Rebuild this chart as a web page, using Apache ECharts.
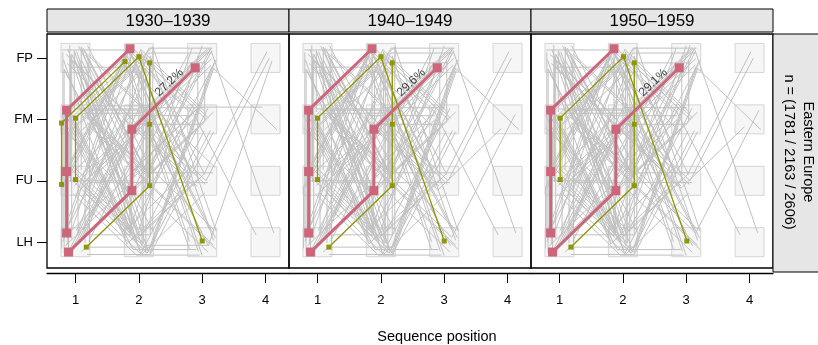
<!DOCTYPE html>
<html>
<head>
<meta charset="utf-8">
<script src="https://cdn.jsdelivr.net/npm/echarts@6/dist/echarts.min.js"></script>
<style>
  html, body { margin: 0; padding: 0; background: #fff; }
  #chart { width: 818px; height: 345px; }
</style>
</head>
<body>
<div id="chart"></div>
<script>
// sequence positions and event states (bottom -> top)
const positions = [1, 2, 3, 4];
const states = ['LH', 'FU', 'FM', 'FP'];
const stateCode = { L: 1, U: 2, M: 3, P: 4 };
const periods = ['1930\u20131939', '1940\u20131949', '1950\u20131959'];
const topShares = ['27.2%', '29.6%', '29.1%'];
const groupLabel = 'Eastern Europe';
const groupSizes = 'n = (1781 / 2163 / 2606)';

// each path: [x jitter, y jitter, 'position+state ...']
const pinkPaths = [
  [-0.14, 0.15, '1L 1U 1M 2P'],
  [-0.11, -0.16, '1L 2U 2M 3P']
];
const olivePaths = [
  [[-0.22, -0.06, '1U 1M 2P'], [0.00, 0.02, '1U 1M 2P 3L'], [0.17, -0.08, '1L 2U 2M 2P']],
  [[0.00, 0.02, '1U 1M 2P 3L'], [0.18, -0.08, '1L 2U 2M 2P']],
  [[0.01, 0.02, '1U 1M 2P 3L'], [0.18, -0.08, '1L 2U 2M 2P']]
];

// background sequences, common look of all three periods
const greyShared = [
  [-0.21, 0.13, '1P 2P 3M'], [-0.13, -0.09, '1P 2M 3U'], [0.05, 0.19, '1P 2U'],
  [0.15, -0.15, '1P 2L 3P'], [-0.03, 0.02, '1P 2L'], [0.21, 0.07, '1P 2M 3L'],
  [-0.17, -0.21, '1P 2U 3M'], [0.09, -0.03, '1P 2U 3U'], [-0.09, 0.21, '1P 1U 2L'],
  [-0.19, 0.04, '1M 2P 3U'], [-0.07, -0.18, '1M 2P'], [0.08, 0.15, '1M 2M 3P'],
  [0.18, -0.05, '1M 2U 3L'], [-0.12, 0.20, '1M 2L 3M'], [0.01, -0.11, '1M 2L'],
  [0.14, 0.10, '1M 2U 3P'], [-0.22, -0.14, '1M 2U'], [0.22, 0.18, '1M 2P 3L'],
  [-0.20, -0.12, '1U 2P 3L'], [-0.08, 0.10, '1U 2M'], [0.04, -0.20, '1U 2L 3U'],
  [0.16, 0.16, '1U 2P 3P'], [-0.14, 0.00, '1U 2U 3M'], [0.10, -0.06, '1U 2M 3L'],
  [0.00, 0.20, '1U 2L 3P'], [0.20, -0.16, '1U 2P'], [-0.02, -0.08, '1U 2M 3M'],
  [-0.18, 0.18, '1L 2P 3U'], [-0.04, -0.14, '1L 2M 3P'], [0.08, 0.04, '1L 2U'],
  [0.18, -0.20, '1L 2L 3M'], [-0.10, 0.08, '1L 2P'], [0.12, 0.20, '1L 2M 3L'],
  [-0.16, -0.06, '1L 2U 3P'], [0.03, 0.14, '1L 2P 3M'], [0.21, 0.02, '1L 2M'],
  [-0.22, -0.10, '1L 1U 2P'], [-0.16, 0.16, '1U 1M 2L 3P'], [0.20, 0.00, '1M 1P 2U'],
  [0.04, 0.10, '1L 1M 2M 2P 3U'], [-0.08, -0.02, '1U 1P 2M'], [0.14, -0.12, '1L 2U 2M 3P'],
  [-0.12, 0.14, '1P 2L 2U 3M'], [0.22, 0.18, '1M 2L 2P'], [0.00, -0.22, '1U 2M 2P 3L'],
  [0.18, 0.12, '1L 2L 2U 3M'], [-0.06, 0.06, '1L 1U 1M 1P 2U'], [0.11, -0.17, '1M 2P 2L'],
  [-0.20, 0.09, '1P 1L 2M 3U'], [0.07, -0.01, '1U 2L 2P 3M'], [0.16, 0.05, '1P 2U 2M'],
  [-0.11, -0.19, '1M 1L 2U 3P'],
  [-0.19, -0.03, '1P 2L 3U'], [0.12, 0.12, '1P 2M 3P'], [-0.06, -0.15, '1P 2P 3L'],
  [0.19, 0.20, '1P 2U 3L'], [-0.15, 0.06, '1P 2M 3M'], [0.03, -0.19, '1P 2L 3M'],
  [-0.21, 0.19, '1M 2L 3U'], [0.06, -0.08, '1M 2P 3P'], [0.17, 0.13, '1M 2U 3U'],
  [-0.09, -0.12, '1M 2L 3L'], [0.10, 0.02, '1M 2P 3M'], [-0.01, 0.17, '1M 2M 3L'],
  [0.13, -0.18, '1U 2L 3M'], [-0.17, 0.13, '1U 2P 3U'], [0.07, 0.07, '1U 2M 3P'],
  [-0.04, -0.21, '1U 2L 3L'], [0.22, -0.03, '1U 2U 3P'], [-0.12, 0.18, '1U 2P 3M'],
  [0.15, 0.08, '1L 2P 3P'], [-0.08, -0.09, '1L 2M 3U'], [0.09, -0.16, '1L 2U 3L'],
  [-0.20, 0.01, '1L 2P 3L'], [0.01, 0.19, '1L 2M 3M'], [0.19, -0.08, '1L 2L 3P'],
  [-0.13, -0.04, '1L 1M 2P'], [0.09, 0.18, '1U 1P 2L 3M'], [-0.18, -0.18, '1L 1P 2U'],
  [0.15, -0.01, '1L 1U 2M 3P'], [-0.02, 0.12, '1M 1P 2L'], [0.22, -0.12, '1L 1M 2U 3L'],
  [0.05, -0.06, '1P 2L 2M 3U'], [-0.14, 0.10, '1U 2L 2P'], [0.18, 0.03, '1M 2U 2P 3L'],
  [-0.10, -0.20, '1L 2M 2P 3M'], [0.12, 0.16, '1P 2U 2M 3P'], [-0.22, 0.07, '1M 2L 2U 3P'],
  [0.04, -0.04, '1L 2U 3M 3P'], [-0.07, 0.03, '1M 2L 3U 3P'],
  [0.06, 0.00, '1L 2M 3U 4P'], [0.13, 0.15, '1M 2U 3P 4L'], [0.18, -0.17, '1U 2L 3P 4M'],
  [0.02, 0.10, '1P 2L 3U 4P'], [-0.15, 0.12, '1U 2P 3M 4L']
];
const greyExtra = [
  [[0.10, -0.05, '1U 2L 3L 4P'], [-0.05, 0.20, '1L 2U 3M 4M'], [0.20, 0.22, '1M 2M 3U']],
  [[0.12, 0.08, '1L 2U 3L 4M'], [-0.10, -0.15, '1P 2M 3U 4M'], [0.19, -0.21, '1M 2L 3P']],
  [[0.15, 0.15, '1L 2U 3L 4M'], [-0.08, -0.12, '1P 2M 3U 4M'], [0.06, 0.21, '1U 2L 3P']]
];

const pink = '#cc667a';
const olive = '#8e9600';
const greyLine = '#c0c0c0';
const font = 'Liberation Sans, Arial, sans-serif';

const panelLeft = [47, 289, 531];
const panelW = 242, panelTop = 34, panelH = 234;

function toPoints(entry) {
  const [dx, dy, path] = entry;
  return path.split(' ').map(t => [+t[0] + dx, stateCode[t[1]] + dy]);
}

const grid = [], xAxis = [], yAxis = [], series = [], graphic = [];

periods.forEach((period, i) => {
  grid.push({
    left: panelLeft[i], top: panelTop, width: panelW, height: panelH,
    show: true, borderColor: '#000', borderWidth: 1.3, backgroundColor: 'transparent'
  });
  xAxis.push({
    gridIndex: i, type: 'value', min: 0.55, max: 4.37, position: 'bottom', offset: 5,
    axisLine: { show: true, lineStyle: { color: '#000', width: 1.3 } },
    axisTick: { show: true, customValues: positions, length: 10, lineStyle: { color: '#000' } },
    axisLabel: { show: true, customValues: positions, margin: 21, fontSize: 13, color: '#000', fontFamily: font },
    splitLine: { show: false }
  });
  yAxis.push({
    gridIndex: i, type: 'value', min: 0.58, max: 4.39,
    axisLine: { show: false },
    axisTick: { show: i === 0, customValues: [1, 2, 3, 4], length: 10, lineStyle: { color: '#000' } },
    axisLabel: {
      show: i === 0, customValues: [1, 2, 3, 4], margin: 14, fontSize: 13, color: '#000', fontFamily: font,
      formatter: v => states[Math.round(v) - 1]
    },
    splitLine: { show: false }
  });

  const boxes = [];
  positions.forEach(p => states.forEach((s, k) => boxes.push([p, k + 1])));
  series.push({
    type: 'scatter', xAxisIndex: i, yAxisIndex: i, data: boxes, symbol: 'rect', symbolSize: 29,
    itemStyle: { color: '#f4f4f4', borderColor: '#cccccc', borderWidth: 1 }, silent: true, z: 1
  });

  series.push({
    type: 'lines', coordinateSystem: 'cartesian2d', xAxisIndex: i, yAxisIndex: i, polyline: true,
    data: greyShared.concat(greyExtra[i]).map(e => ({ coords: toPoints(e) })),
    lineStyle: { color: greyLine, width: 1, opacity: 1 }, silent: true, z: 2
  });

  olivePaths[i].forEach(e => {
    series.push({
      type: 'line', xAxisIndex: i, yAxisIndex: i, data: toPoints(e), symbol: 'rect', symbolSize: 5,
      showAllSymbol: true, lineStyle: { color: olive, width: 1.3 }, itemStyle: { color: olive },
      silent: true, z: 3
    });
  });
  pinkPaths.forEach(e => {
    series.push({
      type: 'line', xAxisIndex: i, yAxisIndex: i, data: toPoints(e), symbol: 'rect', symbolSize: 9,
      showAllSymbol: true, lineStyle: { color: pink, width: 3 }, itemStyle: { color: pink },
      silent: true, z: 4
    });
  });
  series.push({
    type: 'scatter', xAxisIndex: i, yAxisIndex: i, data: [[2.48, 3.6]], symbolSize: 0,
    label: {
      show: true, position: 'inside', formatter: topShares[i], rotate: 44,
      fontSize: 12, color: '#111', fontFamily: font
    },
    silent: true, z: 5
  });

  graphic.push({
    type: 'rect', shape: { x: panelLeft[i], y: 9, width: panelW, height: 23 },
    style: { fill: '#e6e6e6', stroke: '#000', lineWidth: 1 }
  });
  graphic.push({
    type: 'text', x: panelLeft[i] + panelW / 2, y: 21,
    style: { text: period, font: '17px ' + font, fill: '#000', textAlign: 'center', textVerticalAlign: 'middle' }
  });
});

graphic.push({
  type: 'rect', shape: { x: 773, y: panelTop, width: 46, height: 238 },
  style: { fill: '#e6e6e6', stroke: '#000', lineWidth: 1 }
});
graphic.push({
  type: 'text', x: 798, y: 152, rotation: -Math.PI / 2,
  style: {
    text: groupLabel + '\n' + groupSizes, font: '14.5px ' + font, fill: '#000',
    textAlign: 'center', textVerticalAlign: 'middle', lineHeight: 19
  }
});
graphic.push({
  type: 'text', x: 437, y: 337,
  style: { text: 'Sequence position', font: '14.5px ' + font, fill: '#000', textAlign: 'center', textVerticalAlign: 'middle' }
});

const chart = echarts.init(document.getElementById('chart'));
chart.setOption({ animation: false, grid, xAxis, yAxis, series, graphic });
</script>
</body>
</html>
